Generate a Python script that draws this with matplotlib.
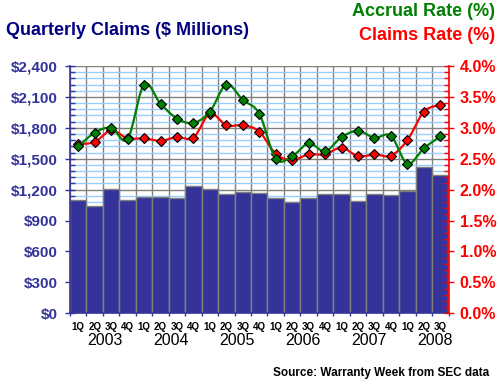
import numpy as np
import matplotlib
matplotlib.use('Agg')
import matplotlib.pyplot as plt
from matplotlib.transforms import blended_transform_factory
from matplotlib.ticker import MultipleLocator, FuncFormatter, FixedLocator

plt.rcParams['font.family'] = ['Liberation Sans', 'DejaVu Sans']

quarters = ['1Q', '2Q', '3Q', '4Q'] * 5 + ['1Q', '2Q', '3Q']
years = ['2003', '2004', '2005', '2006', '2007', '2008']
claims = [1099, 1044, 1210, 1099, 1132, 1132, 1122, 1239, 1210, 1161, 1180, 1164,
          1122, 1083, 1122, 1161, 1161, 1093, 1161, 1151, 1190, 1424, 1346]
accrual_rate = [2.70, 2.92, 3.00, 2.82, 3.70, 3.39, 3.15, 3.08, 3.26, 3.70, 3.45, 3.23,
                2.50, 2.54, 2.75, 2.62, 2.85, 2.95, 2.84, 2.87, 2.42, 2.67, 2.86]
claims_rate = [2.74, 2.77, 2.96, 2.83, 2.83, 2.79, 2.85, 2.84, 3.23, 3.04, 3.04, 2.94,
               2.58, 2.48, 2.57, 2.57, 2.68, 2.54, 2.57, 2.55, 2.80, 3.26, 3.37]

NAVY = '#333399'
GREEN = '#008000'
RED = '#FF0000'
GREY = '#808080'
LBLUE = '#99CCFF'


def smooth_path(x, y, n=24):
    x = np.asarray(x, float)
    y = np.asarray(y, float)
    px = np.concatenate([[x[0]], x, [x[-1]]])
    py = np.concatenate([[y[0]], y, [y[-1]]])
    t = np.linspace(0, 1, n, endpoint=False)
    ox, oy = [], []
    for i in range(1, len(px) - 2):
        p0 = np.array([px[i - 1], py[i - 1]])
        p1 = np.array([px[i], py[i]])
        p2 = np.array([px[i + 1], py[i + 1]])
        p3 = np.array([px[i + 2], py[i + 2]])
        c1 = p1 + (p2 - p0) / 6.0
        c2 = p2 - (p3 - p1) / 6.0
        for tt in t:
            b = ((1 - tt) ** 3) * p1 + 3 * ((1 - tt) ** 2) * tt * c1 + \
                3 * (1 - tt) * tt ** 2 * c2 + tt ** 3 * p2
            ox.append(b[0])
            oy.append(b[1])
    ox.append(x[-1])
    oy.append(y[-1])
    return ox, oy


fig = plt.figure(figsize=(5, 3.85), dpi=100)
ax = fig.add_axes([0.14, 0.1862, 0.757, 0.6424])
ax2 = ax.twinx()

xs = np.arange(len(claims))
ax.set_xlim(-0.5, len(claims) - 0.5)
ax.set_ylim(0, 2400)
ax2.set_ylim(0, 4.0)

# grid
ax.set_axisbelow(True)
ax.yaxis.set_major_locator(MultipleLocator(300))
ax.yaxis.set_minor_locator(MultipleLocator(60))
ax.grid(which='minor', axis='y', color=LBLUE, lw=1.0)
ax.grid(which='major', axis='y', color=GREY, lw=1.0)
ax.xaxis.set_major_locator(FixedLocator(np.arange(-0.5, len(claims), 1.0)))
ax.grid(which='major', axis='x', color=GREY, lw=1.0)

ax.bar(xs, claims, width=1.0, color=NAVY, edgecolor=GREY, linewidth=1.0, zorder=2)

cx, cy = smooth_path(xs, claims_rate)
ax2.plot(cx, cy, color=RED, lw=1.6, zorder=3)
ax2.plot(xs, claims_rate, ls='none', marker='D', ms=5.0, mfc=RED, mec='black', mew=0.8, zorder=4)
gx, gy = smooth_path(xs, accrual_rate)
ax2.plot(gx, gy, color=GREEN, lw=1.6, zorder=5)
ax2.plot(xs, accrual_rate, ls='none', marker='D', ms=5.0, mfc=GREEN, mec='black', mew=0.8, zorder=6)

# spines
for a in (ax, ax2):
    a.spines['top'].set_visible(False)
ax.spines['left'].set_color(NAVY)
ax.spines['bottom'].set_color(NAVY)
ax.spines['right'].set_visible(False)
ax2.spines['left'].set_visible(False)
ax2.spines['bottom'].set_visible(False)
ax2.spines['right'].set_color(RED)
ax2.spines['right'].set_linewidth(1.2)
ax.spines['left'].set_linewidth(1.2)
ax.spines['bottom'].set_linewidth(1.2)

ax.yaxis.set_major_formatter(FuncFormatter(lambda v, p: '${:,.0f}'.format(v)))
ax.tick_params(axis='y', which='major', direction='inout', length=7, width=1.0,
               color=NAVY, labelcolor=NAVY, labelsize=11, pad=5.5)
ax.tick_params(axis='y', which='minor', direction='in', length=3.5, width=1.0, color=NAVY)
for lbl in ax.get_yticklabels():
    lbl.set_fontweight('bold')

ax2.yaxis.set_major_locator(MultipleLocator(0.5))
ax2.yaxis.set_minor_locator(MultipleLocator(0.1))
ax2.yaxis.set_major_formatter(FuncFormatter(lambda v, p: '{:.1f}%'.format(v)))
ax2.tick_params(axis='y', which='major', direction='inout', length=7, width=1.0,
                color=RED, labelcolor=RED, labelsize=11.5, pad=4.5)
ax2.tick_params(axis='y', which='minor', direction='in', length=3.5, width=1.0, color=RED)
for lbl in ax2.get_yticklabels():
    lbl.set_fontweight('bold')

ax.tick_params(axis='x', which='major', direction='out', length=2.5, width=1.0,
               color=NAVY, labelbottom=False)

trans = blended_transform_factory(ax.transData, ax.transAxes)
for i, q in enumerate(quarters):
    ax.text(i, -0.054, q, transform=trans, ha='center', va='center',
            fontsize=7, fontweight='bold', color='black')
year_centers = [1.5, 5.5, 9.5, 13.5, 17.5, 21.5]
for yc, yr in zip(year_centers, years):
    ax.text(yc + 0.15, -0.111, yr, transform=trans, ha='center', va='center',
            fontsize=11.5, color='black')

fig.text(0.012, 0.921, 'Quarterly Claims ($ Millions)', ha='left', va='center',
         fontsize=13, fontweight='bold', color='#000080')
fig.text(0.99, 0.971, 'Accrual Rate (%)', ha='right', va='center',
         fontsize=13, fontweight='bold', color=GREEN)
fig.text(0.99, 0.909, 'Claims Rate (%)', ha='right', va='center',
         fontsize=13, fontweight='bold', color=RED)
fig.text(0.978, 0.031, 'Source: Warranty Week from SEC data', ha='right', va='center',
         fontsize=8.5, fontweight='bold', color='black')

fig.savefig('out.png', dpi=100)
